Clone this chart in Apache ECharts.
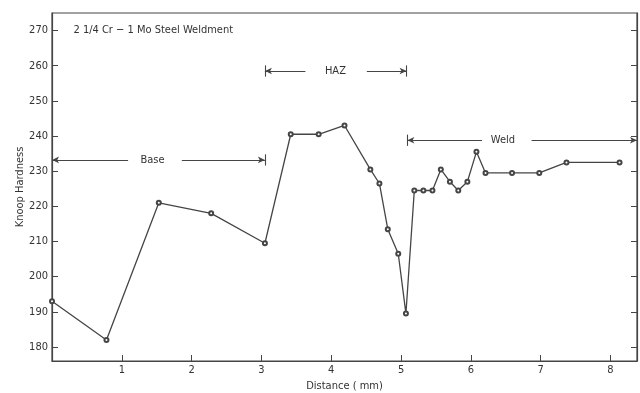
<!DOCTYPE html>
<html>
<head>
<meta charset="utf-8">
<script src="https://cdn.jsdelivr.net/npm/echarts@6/dist/echarts.min.js"></script>
<style>
  html, body { margin: 0; padding: 0; background: #fff; }
  #chart { width: 640px; height: 393px; }
</style>
</head>
<body>
<div id="chart"></div>
<script>
// Knoop hardness traverse across a 2 1/4 Cr - 1 Mo steel weldment
const distanceMm = [0.0, 0.78, 1.53, 2.28, 3.05, 3.42, 3.82, 4.19, 4.56, 4.69, 4.81, 4.96, 5.07,
                    5.19, 5.32, 5.45, 5.57, 5.70, 5.82, 5.95, 6.08, 6.21, 6.59, 6.98, 7.37, 8.13];
const knoopHardness = [193, 182, 221, 218, 209.5, 240.5, 240.5, 243, 230.5, 226.5, 213.5, 206.5, 189.5,
                       224.5, 224.5, 224.5, 230.5, 227, 224.5, 227, 235.5, 229.5, 229.5, 229.5, 232.5, 232.5];

const xTicks = [1, 2, 3, 4, 5, 6, 7, 8];
const yTicks = [180, 190, 200, 210, 220, 230, 240, 250, 260, 270];

// Zone brackets: extent, level, label and the gap left around the label
const zoneNames = ['Base', 'HAZ', 'Weld'];
const zoneStart = [0.0, 3.05, 5.09];
const zoneEnd = [3.05, 5.08, 8.38];
const zoneLevel = [233.2, 258.5, 238.8];
const zoneLabelAt = [1.44, 4.06, 6.46];
const zoneGapLeft = [1.09, 3.63, 6.16];
const zoneGapRight = [1.86, 4.51, 6.87];
// which ends get a vertical stop bar
const zoneBarStart = [false, true, true];
const zoneBarEnd = [true, true, false];

const titleText = '2 1/4 Cr \u2212 1 Mo Steel Weldment';

const FONT = '"Liberation Sans Narrow", "DejaVu Sans Condensed", "Liberation Sans", sans-serif';
const INK = '#454545';

const points = distanceMm.map((d, i) => [d, knoopHardness[i]]);

const bracketLines = [];
const labelPoints = [];
zoneNames.forEach((name, i) => {
  const y = zoneLevel[i];
  bracketLines.push({ coords: [[zoneGapLeft[i], y], [zoneStart[i], y]], symbol: ['none', 'arrow'] });
  bracketLines.push({ coords: [[zoneGapRight[i], y], [zoneEnd[i], y]], symbol: ['none', 'arrow'] });
  if (zoneBarStart[i]) {
    bracketLines.push({ coords: [[zoneStart[i], y - 1.6], [zoneStart[i], y + 1.6]], symbol: ['none', 'none'] });
  }
  if (zoneBarEnd[i]) {
    bracketLines.push({ coords: [[zoneEnd[i], y - 1.6], [zoneEnd[i], y + 1.6]], symbol: ['none', 'none'] });
  }
  labelPoints.push({ name: name, coord: [zoneLabelAt[i], y] });
});

const chart = echarts.init(document.getElementById('chart'), null, { renderer: 'canvas' });

chart.setOption({
  animation: false,
  backgroundColor: '#fff',
  grid: {
    left: 52, top: 13, right: 3, bottom: 32,
    outerBoundsMode: 'none',
    show: true, borderColor: INK, borderWidth: 1.2
  },
  xAxis: {
    type: 'value',
    min: 0,
    max: 8.38,
    name: 'Distance ( mm)',
    nameLocation: 'middle',
    nameGap: 20,
    nameMoveOverlap: false,
    nameTextStyle: { fontFamily: FONT, fontSize: 11, color: '#333' },
    axisLine: { show: true, lineStyle: { color: INK, width: 1.2 } },
    axisTick: { show: true, inside: true, length: 6, customValues: xTicks, lineStyle: { color: INK } },
    axisLabel: { customValues: xTicks, fontFamily: FONT, fontSize: 11, color: '#333', margin: 4 },
    splitLine: { show: false }
  },
  yAxis: [{
    type: 'value',
    min: 176,
    max: 275,
    name: 'Knoop Hardness',
    nameLocation: 'middle',
    nameGap: 26,
    nameRotate: 90,
    nameMoveOverlap: false,
    nameTextStyle: { fontFamily: FONT, fontSize: 11, color: '#333' },
    axisLine: { show: true, lineStyle: { color: INK, width: 1.2 } },
    axisTick: { show: true, inside: true, length: 6, customValues: yTicks, lineStyle: { color: INK } },
    axisLabel: { customValues: yTicks, fontFamily: FONT, fontSize: 11, color: '#333', margin: 4 },
    splitLine: { show: false }
  }, {
    type: 'value',
    position: 'right',
    min: 176,
    max: 275,
    axisLine: { show: true, lineStyle: { color: INK, width: 1.2 } },
    axisTick: { show: true, inside: true, length: 6, customValues: yTicks, lineStyle: { color: INK } },
    axisLabel: { show: false },
    splitLine: { show: false }
  }],
  series: [{
    type: 'line',
    data: points,
    symbol: 'emptyCircle',
    symbolSize: 4,
    lineStyle: { color: INK, width: 1.3 },
    itemStyle: { color: INK, borderWidth: 0.8 },
    markLine: {
      silent: true,
      symbolSize: [5, 7],
      lineStyle: { color: INK, width: 1.1, type: 'solid' },
      label: { show: false },
      data: bracketLines.map(b => [
        { coord: b.coords[0], symbol: b.symbol[0] },
        { coord: b.coords[1], symbol: b.symbol[1] }
      ])
    },
    markPoint: {
      silent: true,
      symbol: 'rect',
      symbolSize: 1,
      itemStyle: { color: 'rgba(0,0,0,0)' },
      label: {
        show: true,
        position: 'inside',
        formatter: '{b}',
        fontFamily: FONT,
        fontSize: 11,
        color: '#333'
      },
      data: labelPoints.concat([{
        name: titleText,
        coord: [0.3, 270],
        label: { position: 'right', distance: 0 }
      }])
    }
  }]
});
</script>
</body>
</html>
